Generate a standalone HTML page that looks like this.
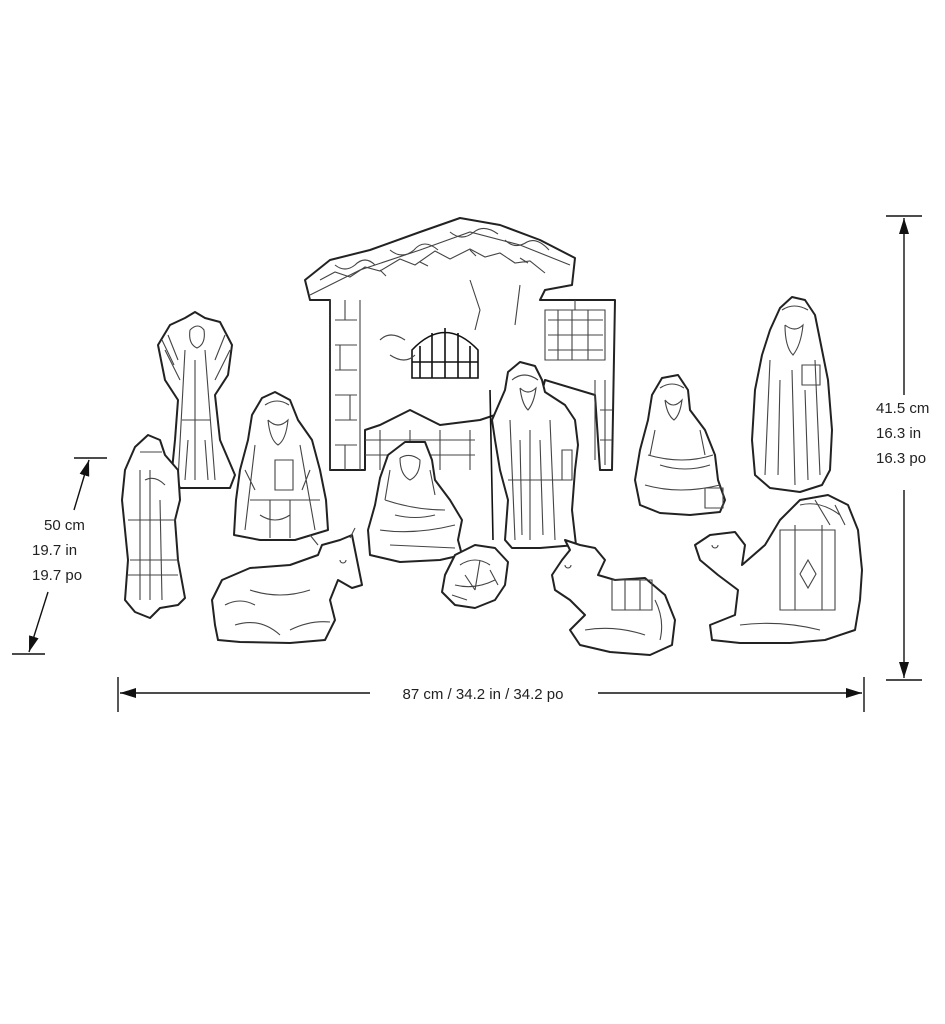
<!DOCTYPE html>
<html><head><meta charset="utf-8"><style>
html,body{margin:0;padding:0;background:#fff;}
svg{display:block;}
text{font-family:"Liberation Sans",Arial,sans-serif;font-size:15px;fill:#222;}
.o{fill:#fff;stroke:#222;stroke-width:2;stroke-linejoin:round;}
.d{fill:none;stroke:#444;stroke-width:1.1;}
.k{fill:none;stroke:#111;stroke-width:1.6;}
</style></head><body>
<svg width="945" height="1024" viewBox="0 0 945 1024" xmlns="http://www.w3.org/2000/svg">
<defs><marker id="ar" viewBox="0 0 16 10" refX="16" refY="5" markerWidth="16" markerHeight="10" orient="auto-start-reverse" markerUnits="userSpaceOnUse"><path d="M0,0 L16,5 L0,10 z" fill="#111"/></marker></defs>

<!-- Stable -->
<g>
<path class="o" d="M330,470 L330,300 L310,300 L305,280 L330,260 L370,250 L420,232 L460,218 L500,225 L540,240 L575,258 L572,285 L545,290 L540,300 L605,300 L615,300 L612,470 L600,470 L595,395 L545,380 L540,400 L480,420 L440,425 L410,410 L380,425 L365,430 L365,470 Z"/>
<path class="d" d="M310,295 L360,270 L420,250 L470,232 L520,245 L570,265 M330,300 L330,470 M360,300 L360,470 M335,320 h22 M335,345 h22 M335,370 h22 M335,395 h22 M335,420 h22 M335,445 h22 M345,300 v20 M340,345 v25 M350,395 v25 M345,445 v25 M365,440 h110 M365,455 h110 M380,430 v40 M410,430 v40 M440,430 v40 M470,430 v40"/>
<path class="d" d="M320,280 l15,-8 l15,5 l15,-10 l15,4 l20,-12 l15,6 l20,-14 l15,8 l20,-10 l15,8 l15,-4 l15,10 l15,-2 l15,12 M335,265 q10,8 20,0 q10,-10 20,0 M390,250 q12,10 24,0 q10,-12 24,0 M450,232 q12,10 24,0 q10,-8 24,2 M505,240 q10,10 22,2 q10,-5 22,8 M420,262 l8,4 M470,250 l6,6 M520,258 l8,5 M380,270 l6,6"/>
<path class="k" d="M412,378 L412,350 Q445,315 478,350 L478,378 Z M420,378 v-32 M432,378 v-45 M445,378 v-50 M458,378 v-45 M470,378 v-32 M412,362 h66"/>
<path class="d" d="M380,340 q10,-10 25,0 M390,355 q15,10 25,0 M470,280 l10,30 l-5,20 M520,285 l-5,40 M545,310 h60 v50 h-60 z M548,320 h55 M548,335 h55 M548,350 h55 M558,310 v50 M572,310 v50 M588,310 v50 M595,380 v80 M605,380 v85 M575,300 v10 M600,410 h12 M600,440 h12"/>
</g>

<!-- Angel -->
<path class="o" d="M175,440 L178,400 L165,380 L158,345 L170,325 L185,318 L195,312 L205,318 L220,322 L232,345 L228,375 L215,395 L220,440 L235,475 L230,488 L180,488 L172,470 Z"/>
<path class="d" d="M190,330 q8,-8 14,0 q2,14 -7,18 q-9,-4 -7,-18 M185,350 L178,480 M205,350 L215,480 M195,360 v120 M165,350 l15,30 M230,350 l-15,30 M182,420 h28 M162,340 l12,25 M168,335 l10,25 M225,335 l-10,25 M188,440 l-3,40 M205,440 l3,40"/>

<!-- Shepherd left -->
<path class="o" d="M135,447 L148,435 L160,440 L165,455 L178,470 L180,500 L175,520 L178,560 L185,598 L178,605 L160,608 L150,618 L135,612 L125,600 L128,560 L122,500 L125,470 Z"/>
<path class="d" d="M140,452 h22 M145,480 q10,-5 20,5 M128,520 h48 M130,560 h48 M140,470 L140,600 M160,500 L162,600 M150,470 L150,600 M128,575 h50"/>

<!-- King left -->
<path class="o" d="M248,440 L252,415 L262,398 L275,392 L290,400 L298,420 L312,440 L320,470 L326,500 L328,530 L295,540 L260,540 L234,535 L236,500 L240,470 Z"/>
<path class="d" d="M265,405 q12,-8 24,0 M268,420 q10,10 20,0 q-2,20 -10,25 q-8,-5 -10,-25 M255,445 L245,530 M300,445 L315,530 M275,460 h18 v30 h-18 z M250,500 h70 M270,500 v38 M290,500 v38 M245,470 l10,20 M310,470 l-8,20 M260,515 q15,10 30,0"/>

<!-- Mary -->
<path class="o" d="M380,478 L388,455 L405,442 L425,442 L432,460 L435,480 L450,500 L462,520 L458,540 L462,555 L440,560 L400,562 L370,555 L368,530 L375,505 Z"/>
<path class="d" d="M400,458 q10,-6 20,2 q0,15 -10,20 q-10,-5 -10,-22 M385,500 q30,10 60,10 M380,530 q35,5 75,-5 M390,545 L455,548 M390,470 l-5,30 M430,470 l5,25 M395,515 q20,5 40,0"/>

<!-- Joseph -->
<path class="o" d="M505,390 L508,372 L520,362 L535,366 L542,380 L545,392 L565,405 L575,420 L578,445 L575,470 L572,510 L576,545 L540,548 L512,548 L505,540 L508,500 L500,470 L495,440 L492,420 Z"/>
<path class="d" d="M512,380 q12,-10 26,0 M520,388 q8,8 16,0 q-2,15 -8,22 q-6,-6 -8,-22 M510,420 L515,540 M550,420 L555,540 M530,430 v110 M508,480 h62 M562,450 h10 v30 h-10 z M520,440 l2,95 M540,440 l3,95"/>
<path class="k" d="M490,390 L493,540"/>

<!-- King right -->
<path class="o" d="M648,420 L652,395 L662,378 L678,375 L688,390 L690,410 L705,430 L715,455 L718,480 L725,500 L720,512 L690,515 L660,513 L640,505 L635,480 L640,450 Z"/>
<path class="d" d="M660,388 q12,-8 24,0 M665,400 q8,10 17,0 q-2,15 -8,20 q-7,-5 -9,-20 M648,455 q35,10 65,0 M645,485 q35,10 75,0 M705,488 h18 v20 h-18 z M655,430 l-5,25 M700,430 l5,25 M660,465 q25,8 50,0"/>

<!-- King far right -->
<path class="o" d="M770,330 L780,308 L792,297 L805,300 L815,315 L820,340 L828,380 L832,430 L830,470 L822,485 L800,492 L770,488 L755,475 L752,440 L755,390 L762,355 Z"/>
<path class="d" d="M782,310 q12,-8 26,0 M785,325 q10,8 18,0 q-2,20 -10,30 q-8,-8 -8,-30 M770,360 L765,475 M815,360 L820,475 M792,370 L795,485 M802,365 h18 v20 h-18 z M780,380 l-2,95 M805,390 l3,90"/>

<!-- Ox -->
<path class="o" d="M215,625 L212,600 L222,580 L250,568 L290,565 L318,555 L322,545 L340,540 L352,535 L355,550 L358,565 L362,585 L352,588 L338,580 L330,600 L335,620 L325,640 L290,643 L240,642 L218,640 Z"/>
<path class="d" d="M318,545 l-8,-10 M350,538 l5,-10 M235,625 q25,-8 45,10 M290,630 q20,-10 40,-8 M250,590 q30,10 60,0 M340,560 a3,3 0 1,0 6,0 M225,605 q15,-8 30,0"/>

<!-- Baby -->
<path class="o" d="M445,575 L455,555 L475,545 L495,548 L508,562 L505,585 L495,600 L475,608 L455,605 L442,592 Z"/>
<path class="d" d="M460,565 q15,-10 30,0 M455,585 q20,5 40,-5 M465,575 l10,15 M480,560 l-5,30 M490,570 l8,15 M452,595 l15,5"/>

<!-- Donkey -->
<path class="o" d="M555,590 L552,575 L562,560 L570,550 L565,540 L580,545 L595,548 L605,560 L598,575 L615,580 L645,578 L665,595 L675,620 L672,645 L650,655 L610,652 L580,645 L570,630 L585,615 L570,600 Z"/>
<path class="d" d="M612,580 h40 v30 h-40 z M625,580 v30 M640,580 v30 M585,630 q30,-5 60,5 M565,565 a3,3 0 1,0 6,0 M655,600 q10,20 5,40"/>

<!-- Camel -->
<path class="o" d="M700,560 L695,545 L710,535 L735,532 L745,545 L742,565 L765,545 L780,520 L800,500 L828,495 L848,505 L858,530 L862,570 L860,600 L855,630 L825,640 L790,643 L740,643 L712,640 L710,625 L735,615 L738,590 L718,575 Z"/>
<path class="d" d="M780,530 h55 v80 h-55 z M808,560 l8,14 l-8,14 l-8,-14 z M795,525 v85 M822,525 v85 M740,625 q40,-5 80,5 M800,505 q20,-5 40,10 M815,500 l15,25 M835,505 l10,20 M712,545 a3,3 0 1,0 6,0"/>

<!-- Dimensions -->
<g stroke="#111" stroke-width="1.4" fill="none">
<line x1="74" y1="458" x2="107" y2="458"/>
<line x1="12" y1="654" x2="45" y2="654"/>
<line x1="74" y1="510" x2="89" y2="460" marker-end="url(#ar)"/>
<line x1="48" y1="592" x2="29" y2="652" marker-end="url(#ar)"/>
<line x1="118" y1="677" x2="118" y2="712"/>
<line x1="864" y1="677" x2="864" y2="712"/>
<line x1="120" y1="693" x2="370" y2="693" marker-start="url(#ar)"/>
<line x1="598" y1="693" x2="862" y2="693" marker-end="url(#ar)"/>
<line x1="886" y1="216" x2="922" y2="216"/>
<line x1="886" y1="680" x2="922" y2="680"/>
<line x1="904" y1="395" x2="904" y2="218" marker-end="url(#ar)"/>
<line x1="904" y1="490" x2="904" y2="678" marker-end="url(#ar)"/>
</g>
<text x="44" y="530">50 cm</text>
<text x="32" y="555">19.7 in</text>
<text x="32" y="580">19.7 po</text>
<text x="483" y="699" text-anchor="middle">87 cm / 34.2 in / 34.2 po</text>
<text x="876" y="413">41.5 cm</text>
<text x="876" y="438">16.3 in</text>
<text x="876" y="463">16.3 po</text>
</svg>
</body></html>
